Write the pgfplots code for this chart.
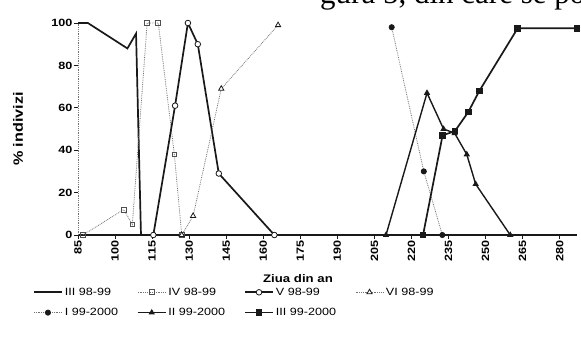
\documentclass[border=0pt]{standalone}
\usepackage{pgfplots}
\pgfplotsset{compat=1.18}
\usepackage{fontspec}
\setmainfont[FakeStretch=1.2]{Liberation Sans}
\newfontfamily\serifscan{Liberation Serif}
\definecolor{dotgray}{gray}{0.45}
\definecolor{ink}{gray}{0.1}

\begin{document}
\begin{tikzpicture}[x=1pt,y=1pt]
\begin{axis}[
  at={(78pt,-235pt)}, anchor=south west,
  x=2.47pt, y=2.12pt,
  xmin=85, xmax=287, ymin=0, ymax=100,
  clip=false,
  axis x line*=bottom, axis y line*=left,
  axis line style={-},
  x axis line style={ink, line width=1.4pt},
  y axis line style={dotgray, densely dotted, line width=0.8pt},
  xtick={85,100,...,280}, ytick={0,20,...,100},
  tick align=outside, major tick length=4pt,
  tick style={ink, line width=0.8pt},
  /pgf/number format/assume math mode=true,
  xticklabel style={rotate=90, anchor=east, font=\bfseries\fontsize{10.5}{10.5}\selectfont, inner sep=1.5pt},
  yticklabel style={font=\bfseries\fontsize{10.5}{10.5}\selectfont, inner sep=1.5pt},
  legend columns=4,
  legend cell align=left,
  legend style={draw=none, fill=none, inner sep=0pt, outer sep=0pt,
    at={(axis description cs:-0.09,-0.24)}, anchor=north west,
    font=\fontsize{10.5}{11}\selectfont, row sep=7.5pt,
    /tikz/every even column/.append style={column sep=17pt}},
  legend image code/.code={\draw[mark repeat=2,mark phase=2,#1] plot coordinates {(0pt,0pt) (14pt,0pt) (28pt,0pt)};},
]
% III 98-99
\addplot[ink, line width=1.7pt, mark=none] coordinates {
  (85,100) (89,100) (105,88) (108.5,95) (110.5,0) (115,0)};
\addlegendentry{III 98-99}
% IV 98-99
\addplot[dotgray, densely dotted, line width=0.8pt, mark=square, mark size=2.4pt,
  mark options={solid, fill=white, draw=dotgray!70!black, line width=0.8pt}] coordinates {
  (87,0) (103.5,12) (107,5) (113,100) (117.5,100) (124,38) (127,0)};
\addlegendentry{IV 98-99}
% V 98-99
\addplot[ink, line width=1.7pt, mark=*, mark size=2.8pt,
  mark options={solid, fill=white, draw=ink, line width=0.8pt}] coordinates {
  (115.5,0) (124.3,61) (129.5,100) (133.5,90) (142,29) (164.5,0)};
\addlegendentry{V 98-99}
% VI 98-99
\addplot[dotgray, densely dotted, line width=0.8pt, mark=triangle*, mark size=3pt,
  mark options={solid, fill=white, draw=ink, line width=0.8pt}] coordinates {
  (127,0) (131.6,9) (143,69) (166,99)};
\addlegendentry{VI 98-99}
% I 99-2000
\addplot[dotgray, densely dotted, line width=0.8pt, mark=*, mark size=2.6pt,
  mark options={solid, fill=ink, draw=ink}] coordinates {
  (212,98) (225,30) (232.5,0)};
\addlegendentry{I 99-2000}
% II 99-2000
\addplot[ink, line width=1.4pt, mark=triangle*, mark size=2.3pt,
  mark options={solid, fill=ink, draw=ink}] coordinates {
  (209.7,0) (226.3,67) (233,50) (237.5,48) (242.4,38) (246,24) (260,0)};
\addlegendentry{II 99-2000}
% III 99-2000
\addplot[ink, line width=1.7pt, mark=square*, mark size=2.4pt,
  mark options={solid, fill=ink, draw=ink}] coordinates {
  (224.7,0) (232.6,47) (237.6,49) (243,58) (247.5,68) (263,97.5) (287,97.5)};
\addlegendentry{III 99-2000}
\end{axis}
\node[rotate=90, font=\bfseries\fontsize{13.5}{13.5}\selectfont] at (18pt,-129pt) {\% indivizi};
\node[font=\bfseries\fontsize{11}{11}\selectfont] at (298pt,-279pt) {Ziua din an};
\node[anchor=base west, inner sep=0pt, font=\serifscan\fontsize{31}{31}\selectfont] at (320pt,-4pt) {gura 5, din care se pot};
\pgfresetboundingbox
\path[use as bounding box] (0pt,0pt) rectangle (581pt,-344pt);
\end{tikzpicture}
\end{document}
